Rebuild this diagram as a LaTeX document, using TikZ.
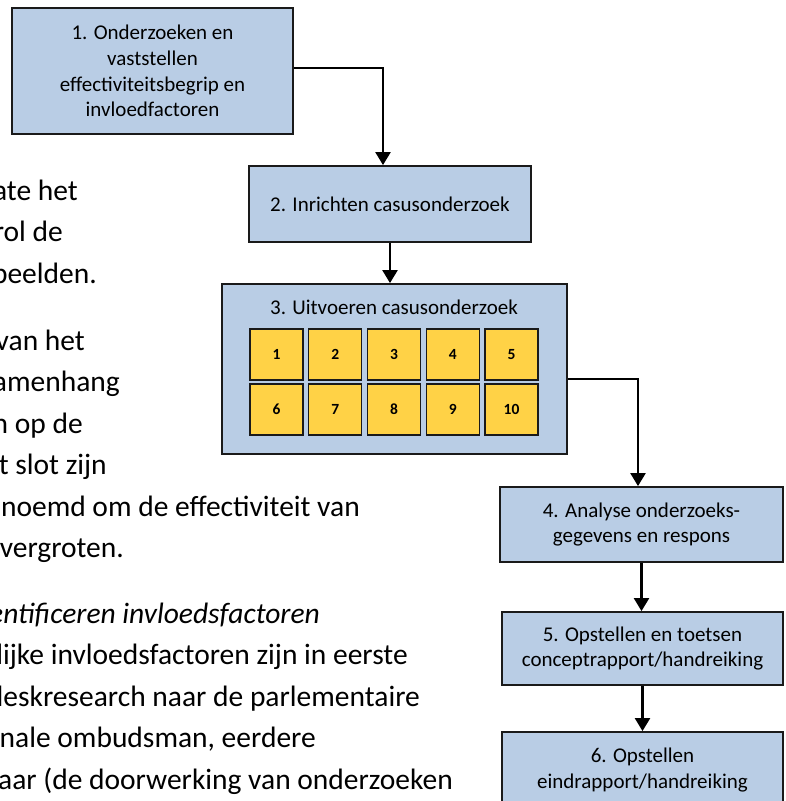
\documentclass[tikz,border=0pt]{standalone}
\usepackage{fontspec}
\setmainfont{Carlito}
\usetikzlibrary{arrows.meta}
\definecolor{boxblue}{HTML}{B9CDE5}
\definecolor{caseyellow}{HTML}{FFD246}
\definecolor{edgegray}{HTML}{1A1A1A}
\begin{document}
\begin{tikzpicture}[x=1pt,y=-1pt,
  stepbox/.style={draw=edgegray, line width=1.8pt, fill=boxblue, inner sep=0pt, align=center,
    font=\fontsize{21}{25.6}\selectfont, text=black},
  casebox/.style={draw=edgegray, line width=1.4pt, fill=caseyellow, minimum width=53pt,
    minimum height=51pt, inner sep=0pt, font=\fontsize{15.5}{18}\selectfont\bfseries},
  titletext/.style={inner sep=0pt, font=\fontsize{21}{25.6}\selectfont},
  body/.style={anchor=base east, inner sep=0pt, font=\fontsize{29.5}{41.5}\selectfont},
  flow/.style={draw=black, line width=2.2pt, -{Triangle[width=15pt,length=13pt]}}
]
\useasboundingbox (0,0) rectangle (785,801);
\begin{scope}
\clip (0,0) rectangle (785,801);

% body text fragments
\node[body] (t1) at (78,200) {ate het};
\node[body] (t2) at (63,241.5) {rol de};
\node[body] (t3) at (97,283) {beelden.};
\node[body] (t4) at (85,350) {van het};
\node[body] (t5) at (120,391.5) {amenhang};
\node[body] (t6) at (83,433) {n op de};
\node[body] (t7) at (107,474.5) {t slot zijn};
\node[body] (t8) at (360,516) {noemd om de effectiviteit van};
\node[body] (t9) at (124,557.5) {vergroten.};
\node[body] (t10) at (320,623) {\itshape entificeren invloedsfactoren};
\node[body] (t11) at (408,664.5) {lijke invloedsfactoren zijn in eerste};
\node[body] (t12) at (420,706) {deskresearch naar de parlementaire};
\node[body] (t13) at (316,747.5) {onale ombudsman, eerdere};
\node[body] (t14) at (453,789) {aar (de doorwerking van onderzoeken};

% step boxes
\node[stepbox, minimum width=281pt, minimum height=126pt] (s1) at (152.5,71)
  {1. Onderzoeken en\\vaststellen\\effectiviteitsbegrip en\\invloedfactoren};
\node[stepbox, minimum width=282pt, minimum height=76pt] (s2) at (390,204)
  {2. Inrichten casusonderzoek};
\node[stepbox, minimum width=345pt, minimum height=170pt] (s3) at (394.5,369) {};
\node[titletext] (s3t) at (394,307) {3. Uitvoeren casusonderzoek};
\foreach \n [count=\i from 0] in {1,...,5} {
  \node[casebox] (c\n) at (276.5+58.75*\i,354.5) {\n};
}
\foreach \n [count=\i from 0] in {6,...,10} {
  \node[casebox] (c\n) at (276.5+58.75*\i,409.5) {\n};
}
\node[stepbox, minimum width=283pt, minimum height=75pt] (s4) at (641.5,524.5)
  {4. Analyse onderzoeks-\\gegevens en respons};
\node[stepbox, minimum width=281pt, minimum height=73pt] (s5) at (642.5,648.5)
  {5. Opstellen en toetsen\\conceptrapport/handreiking};
\node[stepbox, minimum width=281pt, minimum height=76pt] (s6) at (642.5,770)
  {6. Opstellen\\eindrapport/handreiking};

% connectors
\draw[flow] ([yshift=3pt]s1.east) -| ([xshift=-7pt]s2.north);
\draw[flow] (s2.south) -- (s2.south |- s3.north);
\draw[flow] ([yshift=-10pt]s3.east) -| ([xshift=-3.5pt]s4.north);
\draw[flow] (s4.south) -- (s4.south |- s5.north);
\draw[flow] (s5.south) -- (s5.south |- s6.north);
\end{scope}
\end{tikzpicture}
\end{document}
